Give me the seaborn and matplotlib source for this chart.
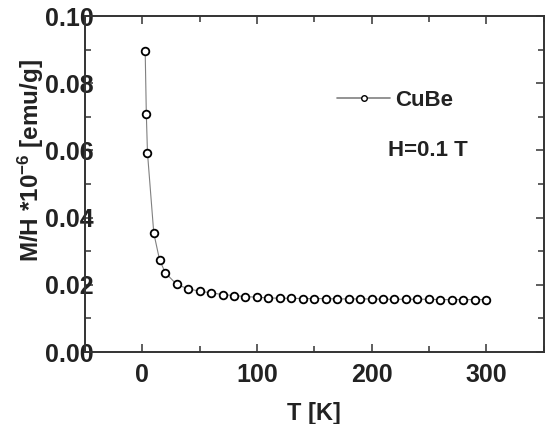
import matplotlib
matplotlib.use("Agg")
import matplotlib.pyplot as plt
from matplotlib.lines import Line2D
from matplotlib.ticker import MultipleLocator
import seaborn as sns

# data
temp = [2.5, 3.5, 4.5, 10, 15, 20, 30, 40, 50, 60, 70, 80, 90, 100, 110,
        120, 130, 140, 150, 160, 170, 180, 190, 200, 210, 220, 230, 240,
        250, 260, 270, 280, 290, 300]
mh = [0.0896, 0.0708, 0.0593, 0.0354, 0.0275, 0.0236, 0.0201, 0.0188,
      0.0181, 0.0176, 0.0171, 0.0168, 0.0165, 0.0163, 0.0161,
      0.0160, 0.0160, 0.0159, 0.0159, 0.0159, 0.0158, 0.0158, 0.0158,
      0.0158, 0.0157, 0.0157, 0.0157, 0.0157, 0.0157, 0.0156, 0.0156,
      0.0156, 0.0156, 0.0156]
sample = "CuBe"
field_note = "H=0.1 T"

sns.set_style("ticks")
plt.rcParams["font.family"] = ["Liberation Sans", "DejaVu Sans"]
plt.rcParams["font.weight"] = "bold"
plt.rcParams["axes.labelweight"] = "bold"
plt.rcParams["mathtext.fontset"] = "custom"
plt.rcParams["mathtext.rm"] = "Liberation Sans:bold"
plt.rcParams["mathtext.default"] = "rm"

fig = plt.figure(figsize=(5.46, 4.24), dpi=100)
ax = fig.add_axes([85 / 546, 1 - 352 / 424, 458.5 / 546, 336 / 424])

sns.lineplot(x=temp, y=mh, ax=ax, color="#808080", linewidth=0.8,
             marker="o", markersize=5.5, markerfacecolor="white",
             markeredgecolor="black", markeredgewidth=1.3)

ax.set_xlim(-50, 350)
ax.set_ylim(0, 0.10)
ax.xaxis.set_major_locator(MultipleLocator(100))
ax.xaxis.set_minor_locator(MultipleLocator(50))
ax.yaxis.set_major_locator(MultipleLocator(0.02))
ax.yaxis.set_minor_locator(MultipleLocator(0.01))
ax.yaxis.set_major_formatter(matplotlib.ticker.FormatStrFormatter("%.2f"))

for s in ax.spines.values():
    s.set_visible(True)
    s.set_linewidth(1.4)
    s.set_color("#333333")

ax.tick_params(which="both", direction="in", top=True, right=True,
               color="#333333", width=1.1)
ax.tick_params(which="major", length=6)
ax.tick_params(which="minor", length=4)
ax.tick_params(axis="y", labelsize=18, pad=-6, labelcolor="#222222")
ax.tick_params(axis="x", labelsize=18, pad=8, labelcolor="#222222")

ax.set_xlabel("T [K]", fontsize=17, color="#222222", labelpad=11)
ax.set_ylabel("M/H *10$^{-6}$ [emu/g]", fontsize=17.5, color="#222222")
ax.yaxis.set_label_coords(-0.085, 0.57)

handle = Line2D([], [], color="#808080", linewidth=1.2, marker="o",
                markersize=4, markerfacecolor="white",
                markeredgecolor="black")
ax.legend([handle], [sample], loc="upper left", bbox_to_anchor=(0.506, 0.84),
          frameon=False, fontsize=16, handlelength=2.4, handletextpad=0.2,
          labelcolor="#222222")
ax.text(0.661, 0.60, field_note, transform=ax.transAxes, fontsize=16,
        color="#222222", va="center", ha="left")

fig.savefig("out.png", dpi=100)
